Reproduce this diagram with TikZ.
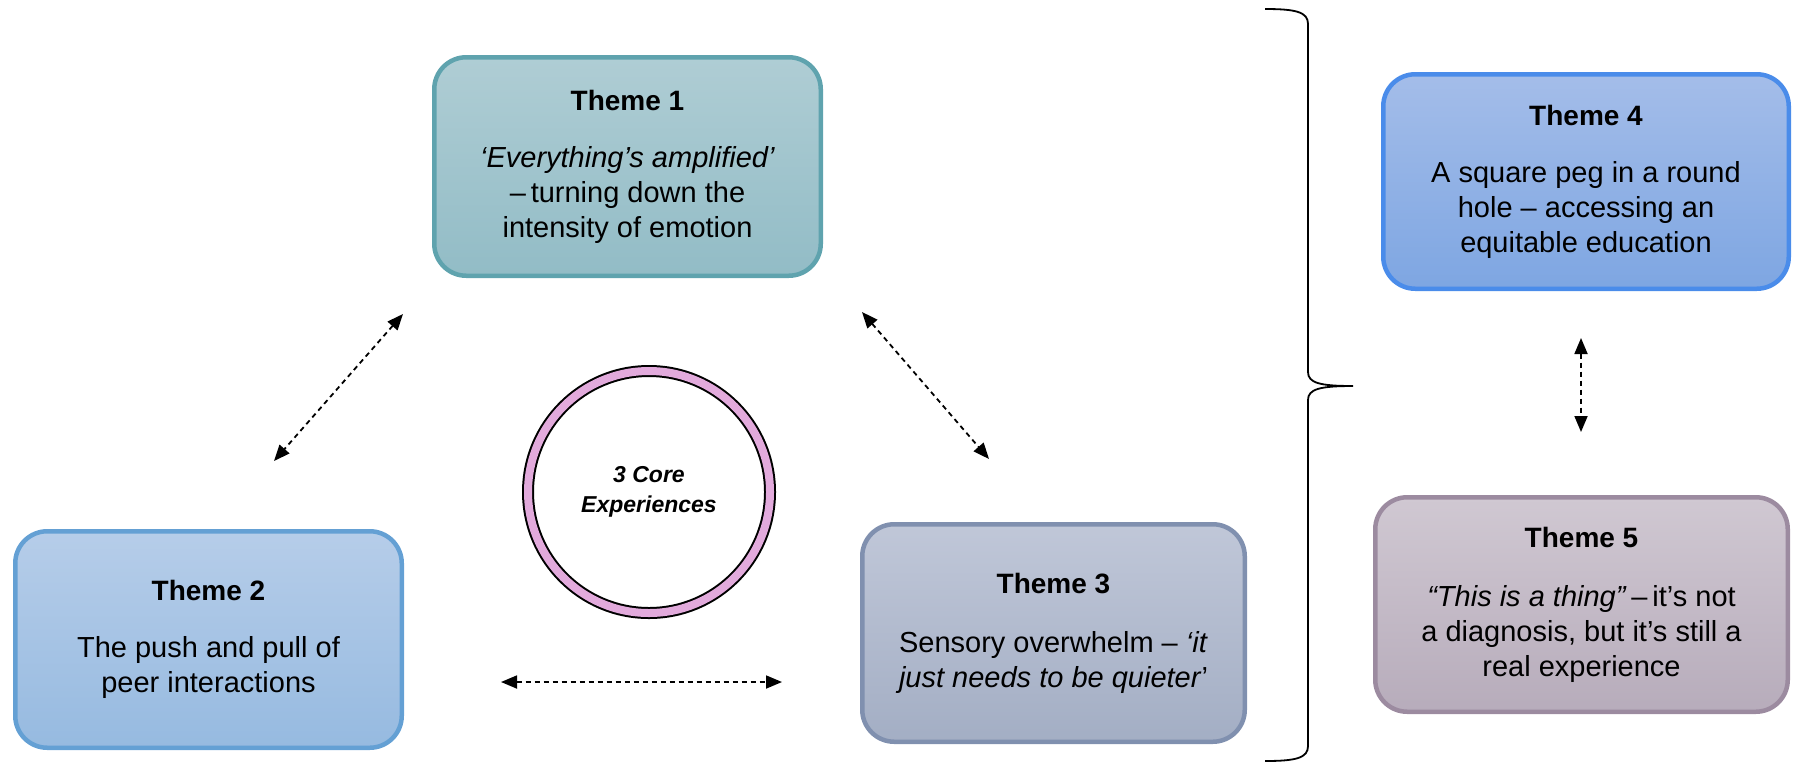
\documentclass[tikz,border=0pt]{standalone}
\usepackage{fontspec}
\setmainfont{Liberation Sans}
\usetikzlibrary{arrows.meta}
\definecolor{c1b}{RGB}{95,163,174}
\definecolor{c1t}{RGB}{175,205,212}
\definecolor{c1d}{RGB}{146,188,198}
\definecolor{c2b}{RGB}{100,160,212}
\definecolor{c2t}{RGB}{182,205,233}
\definecolor{c2d}{RGB}{150,186,224}
\definecolor{c3b}{RGB}{128,144,175}
\definecolor{c3t}{RGB}{192,199,216}
\definecolor{c3d}{RGB}{163,174,196}
\definecolor{c4b}{RGB}{74,140,234}
\definecolor{c4t}{RGB}{164,189,233}
\definecolor{c4d}{RGB}{126,166,226}
\definecolor{c5b}{RGB}{156,139,160}
\definecolor{c5t}{RGB}{208,200,210}
\definecolor{c5d}{RGB}{183,172,187}
\definecolor{ringpink}{RGB}{226,170,220}
\newcommand{\ttl}[1]{{\fontsize{28}{35}\selectfont\bfseries #1}}
\begin{document}
\begin{tikzpicture}[x=1pt,y=-1pt,
  themebox/.style={draw, line width=4.5pt, rounded corners=32pt, align=center,
    font=\fontsize{29}{35}\selectfont, inner sep=0pt},
  link/.style={dash pattern=on 5pt off 4pt, line width=1.8pt,
    {Triangle[length=16pt,width=13pt]}-{Triangle[length=16pt,width=13pt]}},
  brace/.style={line width=1.8pt}
]
\useasboundingbox (0,0) rectangle (1795,764);

\node[themebox, draw=c1b, top color=c1t, bottom color=c1d,
  minimum width=386.5pt, minimum height=218.5pt] (t1) at (627.5,166.5)
  {\ttl{Theme 1}\\[22pt]\textit{‘Everything’s amplified’}\\–\,turning down the\\intensity of emotion};

\node[themebox, draw=c2b, top color=c2t, bottom color=c2d,
  minimum width=386.5pt, minimum height=216.5pt] (t2) at (208.5,639.5)
  {\ttl{Theme 2}\\[22pt]The push and pull of\\peer interactions};

\node[themebox, draw=c3b, top color=c3t, bottom color=c3d,
  minimum width=382.5pt, minimum height=217.5pt] (t3) at (1053.5,633)
  {\ttl{Theme 3}\\[24pt]Sensory overwhelm – \textit{‘it}\\\textit{just needs to be quieter}’};

\node[themebox, draw=c4b, top color=c4t, bottom color=c4d,
  minimum width=405.5pt, minimum height=214.5pt] (t4) at (1586,181.5)
  {\ttl{Theme 4}\\[22pt]A square peg in a round\\hole – accessing an\\equitable education};

\node[themebox, draw=c5b, top color=c5t, bottom color=c5d,
  minimum width=412.5pt, minimum height=214.5pt] (t5) at (1581.5,604.5)
  {\ttl{Theme 5}\\[24pt]\textit{“This is a thing”}\,–\,it’s not\\a diagnosis, but it’s still a\\real experience};

\node[circle, draw=black, line width=2pt, double=ringpink, double distance=8pt,
  minimum size=242pt, inner sep=0pt, align=center,
  font=\fontsize{23}{30}\selectfont\bfseries\itshape] (core) at (649,492)
  {3 Core\\Experiences};

\coordinate (a1) at (403,314);
\coordinate (a2) at (274,461);
\coordinate (b1) at (862,312);
\coordinate (b2) at (989,459);
\coordinate (c1) at (501,682);
\coordinate (c2) at (782,682);
\coordinate (d1) at (1581,338);
\coordinate (d2) at (1581,432);
\draw[link] (a1) -- (a2);
\draw[link] (b1) -- (b2);
\draw[link] (c1) -- (c2);
\draw[link] (d1) -- (d2);

\draw[brace] (1265,9) .. controls (1296,9) and (1308,12) .. (1308,24)
  -- (1308,372) .. controls (1308,383) and (1320,386) .. (1353,386)
  .. controls (1320,386) and (1308,389) .. (1308,400)
  -- (1308,746) .. controls (1308,758) and (1296,761) .. (1265,761);
\end{tikzpicture}
\end{document}
